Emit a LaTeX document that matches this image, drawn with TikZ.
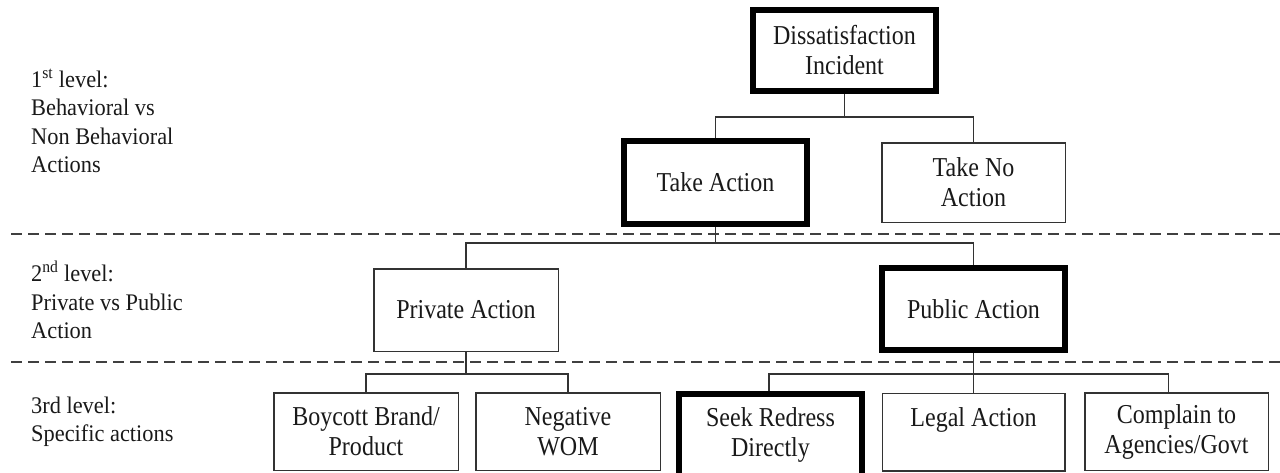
\documentclass[tikz,border=0pt]{standalone}
\usepackage{fontspec}
\setmainfont{Liberation Serif}
\newfontfamily\boxfont{Liberation Serif}[FakeStretch=0.88]
\newfontfamily\lblfont{Liberation Serif}[FakeStretch=0.94]
\begin{document}
\begin{tikzpicture}[x=1pt,y=-1pt,
  box/.style={draw=black!80, line width=1.5pt, inner sep=0pt, align=center,
    font=\boxfont\fontsize{27.3}{30}\selectfont, text=black!90},
  thickbox/.style={box, draw=black, line width=6pt},
  conn/.style={draw=black!80, line width=1.1pt},
  dashline/.style={draw=black!75, line width=1.6pt, dash pattern=on 11pt off 6pt},
  lvl/.style={anchor=base west, inner sep=0pt, font=\lblfont\fontsize{23.8}{28}\selectfont, text=black!90}]
\useasboundingbox (0,0) rectangle (1280,472);
% level separators
\coordinate (d1a) at (11,234);
\coordinate (d1b) at (1280,234);
\coordinate (d2a) at (11,362);
\coordinate (d2b) at (1280,362);
\draw[dashline] (d1a) -- (d1b);
\draw[dashline] (d2a) -- (d2b);
% level labels
\node[lvl] (l1a) at (31,87.3) {1\textsuperscript{st} level:};
\node[lvl] (l1b) at (31,115.7) {Behavioral vs};
\node[lvl] (l1c) at (31,144) {Non Behavioral};
\node[lvl] (l1d) at (31,172.3) {Actions};
\node[lvl] (l2a) at (31,281.7) {2\textsuperscript{nd} level:};
\node[lvl] (l2b) at (31,310) {Private vs Public};
\node[lvl] (l2c) at (31,338.3) {Action};
\node[lvl] (l3a) at (31,413) {3rd level:};
\node[lvl] (l3b) at (31,441.7) {Specific actions};
% boxes
\node[thickbox, minimum width=183pt, minimum height=81pt] (dis) at (844.5,50.5) {Dissatisfaction\\Incident};
\node[thickbox, minimum width=183pt, minimum height=83pt] (take) at (715.5,182.5) {Take Action};
\node[box, minimum width=183.5pt, minimum height=79.5pt] (nota) at (973.5,182.5) {Take No\\Action};
\node[box, minimum width=184.5pt, minimum height=82.5pt] (priv) at (466,310) {Private Action};
\node[thickbox, minimum width=183pt, minimum height=82pt] (pub) at (973.5,309) {Public Action};
\node[box, minimum width=184.5pt, minimum height=77.5pt] (boy) at (366,431.5) {Boycott Brand/\\Product};
\node[box, minimum width=184.5pt, minimum height=77.5pt] (wom) at (568,431.5) {Negative\\WOM};
\node[thickbox, minimum width=183pt, minimum height=82pt] (seek) at (770.5,435) {Seek Redress\\Directly};
\node[box, minimum width=182.5pt, minimum height=77.5pt] (legal) at (973.5,432) {Legal Action\\\mbox{}};
\node[box, minimum width=183.5pt, minimum height=77.5pt] (comp) at (1176.5,431.5) {Complain to\\Agencies/Govt};
% junctions
\coordinate (j1) at (844.5,117);
\coordinate (j2) at (715.5,243);
\coordinate (j3) at (466,374);
\coordinate (j4) at (973.5,374);
% connectors
\draw[conn] (dis.south) -- (j1);
\draw[conn] (take.north) |- (j1) -| (nota.north);
\draw[conn] (take.south) -- (j2);
\draw[conn] (priv.north) |- (j2) -| (pub.north);
\draw[conn] (priv.south) -- (j3);
\draw[conn] (boy.north) |- (j3) -| (wom.north);
\draw[conn] (pub.south) -- (legal.north);
\draw[conn] ([xshift=-1.5pt]seek.north) |- (j4) -| ([xshift=-8pt]comp.north);
\end{tikzpicture}
\end{document}
